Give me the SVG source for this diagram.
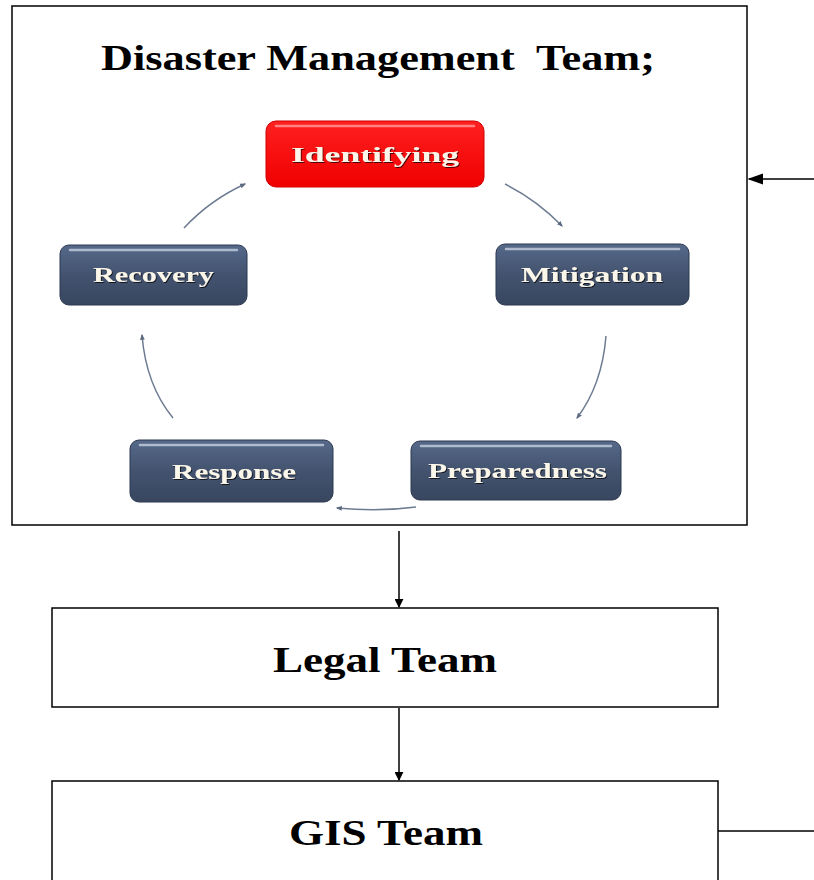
<svg xmlns="http://www.w3.org/2000/svg" width="814" height="880" viewBox="0 0 814 880">
<style>
.box{fill:#fff;stroke:#000;stroke-width:1.5}
.big{font-family:"Liberation Serif",serif;font-weight:bold;font-size:36px;fill:#000}
.nt{font-family:"Liberation Serif",serif;font-weight:bold;font-size:22px;fill:#fbf6ea}
.blue{fill:url(#gb);stroke:#2b3850;stroke-width:1}
.red{fill:url(#gr);stroke:#d00000;stroke-width:1}
.hl{fill:none;stroke:#c6d0de;stroke-width:2.5;stroke-linecap:round;opacity:0.8}
.hlr{fill:none;stroke:#ff9a9a;stroke-width:2.5;stroke-linecap:round;opacity:0.8}
.cyc{fill:none;stroke:#6d7c92;stroke-width:1.5;marker-end:url(#ma)}
.conn{fill:none;stroke:#000;stroke-width:1.5}
</style>
<defs>
<linearGradient id="gb" x1="0" y1="0" x2="0" y2="1">
<stop offset="0" stop-color="#56698a"/>
<stop offset="0.5" stop-color="#43536f"/>
<stop offset="1" stop-color="#38465f"/>
</linearGradient>
<linearGradient id="gr" x1="0" y1="0" x2="0" y2="1">
<stop offset="0" stop-color="#ff2020"/>
<stop offset="1" stop-color="#f00000"/>
</linearGradient>
<marker id="ma" viewBox="0 0 10 10" refX="8" refY="5" markerWidth="4" markerHeight="4" orient="auto">
<path d="M0,1 L10,5 L0,9 z" fill="#5b6a80"/>
</marker>
<marker id="mb" viewBox="0 0 10 10" refX="9" refY="5" markerWidth="9" markerHeight="9" markerUnits="userSpaceOnUse" orient="auto">
<path d="M0,0 L10,5 L0,10 z" fill="#000"/>
</marker>
<marker id="mc" viewBox="0 0 10 10" refX="9" refY="5" markerWidth="16" markerHeight="16" markerUnits="userSpaceOnUse" orient="auto">
<path d="M0,1.5 L10,5 L0,8.5 z" fill="#000"/>
</marker>
<filter id="ts" x="-10%" y="-10%" width="120%" height="140%">
<feDropShadow dx="1" dy="1" stdDeviation="0.6" flood-color="#000" flood-opacity="0.7"/>
</filter>
</defs>

<g id="dmt">
<rect class="box" x="12" y="6" width="735" height="519"/>
<text class="big" x="101" y="70" textLength="554" lengthAdjust="spacingAndGlyphs" style="white-space:pre">Disaster Management  Team;</text>
</g>

<g id="identifying">
<rect class="red" x="266" y="121" width="218" height="66" rx="10"/>
<path class="hlr" d="M276,126 H474"/>
<text class="nt" x="291" y="162" textLength="168" lengthAdjust="spacingAndGlyphs" filter="url(#ts)">Identifying</text>
</g>

<g id="mitigation">
<rect class="blue" x="496" y="244" width="193" height="61" rx="9"/>
<path class="hl" d="M506,249 H679"/>
<text class="nt" x="521" y="282" textLength="142" lengthAdjust="spacingAndGlyphs" filter="url(#ts)">Mitigation</text>
</g>

<g id="preparedness">
<rect class="blue" x="411" y="441" width="210" height="59" rx="9"/>
<path class="hl" d="M421,446 H611"/>
<text class="nt" x="428" y="478" textLength="179" lengthAdjust="spacingAndGlyphs" filter="url(#ts)">Preparedness</text>
</g>

<g id="response">
<rect class="blue" x="130" y="440" width="203" height="62" rx="9"/>
<path class="hl" d="M140,445 H323"/>
<text class="nt" x="172" y="479" textLength="124" lengthAdjust="spacingAndGlyphs" filter="url(#ts)">Response</text>
</g>

<g id="recovery">
<rect class="blue" x="60" y="245" width="187" height="60" rx="9"/>
<path class="hl" d="M70,250 H237"/>
<text class="nt" x="93" y="282" textLength="121" lengthAdjust="spacingAndGlyphs" filter="url(#ts)">Recovery</text>
</g>

<g id="legal">
<rect class="box" x="52" y="608" width="666" height="99"/>
<text class="big" x="273" y="672" textLength="224" lengthAdjust="spacingAndGlyphs">Legal Team</text>
</g>

<g id="gis">
<rect class="box" x="52" y="781" width="666" height="110"/>
<text class="big" x="289" y="845" textLength="194" lengthAdjust="spacingAndGlyphs">GIS Team</text>
</g>

<g id="connectors">
<path class="cyc" d="M505,184 Q537,200 562,226"/>
<path class="cyc" d="M606,336 Q602,385 577,418"/>
<path class="cyc" d="M416,507 Q378,512 337,508"/>
<path class="cyc" d="M173,418 Q146,385 142,335"/>
<path class="cyc" d="M184,228 Q210,200 245,184"/>
<path class="conn" d="M399,531 V607" marker-end="url(#mb)"/>
<path class="conn" d="M399,708 V780" marker-end="url(#mb)"/>
<path class="conn" d="M718,831 H814"/>
<path class="conn" d="M814,179 H749" marker-end="url(#mc)"/>
</g>
</svg>
